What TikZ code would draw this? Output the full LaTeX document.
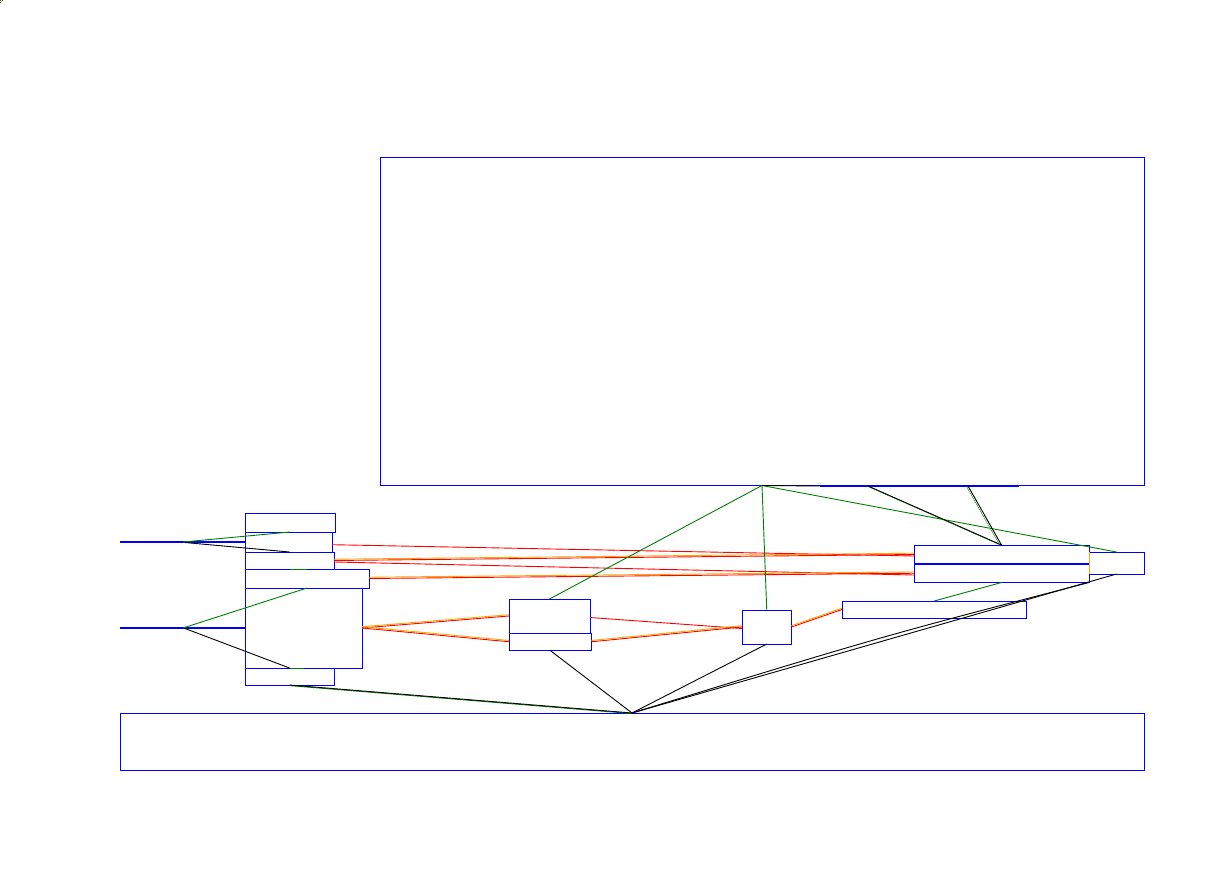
\documentclass[tikz,border=0pt]{standalone}
\usetikzlibrary{calc}
\definecolor{gr}{RGB}{0,128,0}
\definecolor{bl}{RGB}{0,0,255}
\definecolor{rd}{RGB}{255,0,0}
\definecolor{og}{RGB}{255,165,0}
\tikzset{
  bx/.style={draw=bl, line width=1pt, rectangle, inner sep=0pt, outer sep=0pt},
  thin/.style={line width=0.9pt},
  gline/.style={thin, draw=gr},
  kline/.style={thin, draw=black},
  rline/.style={thin, draw=rd},
  orline/.style={thin, draw=rd, postaction={draw=og, transform canvas={yshift=1.3pt}}},
  kgline/.style={thin, draw=black, preaction={draw=gr, transform canvas={xshift=-1.3pt}}},
  gkline/.style={thin, draw=black, preaction={draw=gr, transform canvas={xshift=-1.8pt}}},
  thickblue/.style={draw=bl, line width=2pt},
}
\begin{document}
\begin{tikzpicture}[x=1pt,y=-1pt]
\useasboundingbox (0,0) rectangle (1224,870);
% tiny marks top-left
\fill[gr] (0,0) rectangle (1,1);
\fill[gr] (2,0) rectangle (3,1);
\fill[rd] (0,2) rectangle (1,3);

% big boxes
\node[bx, minimum width=764pt, minimum height=328.5pt] (top) at (762,321.25) {};
\node[bx, minimum width=1024pt, minimum height=57pt] (bot) at (632,741.5) {};

% left stack
\node[bx, minimum width=90pt, minimum height=19pt] (A) at (290,522.5) {};
\node[bx, minimum width=87pt, minimum height=20pt] (B) at (288.5,542) {};
\node[bx, minimum width=89pt, minimum height=17pt] (C) at (289.5,560.5) {};
\node[bx, minimum width=124pt, minimum height=19pt] (D) at (307,578.5) {};
\node[bx, minimum width=117pt, minimum height=80pt] (E) at (303.5,628) {};
\node[bx, minimum width=89pt, minimum height=17pt] (F) at (289.5,676.5) {};

% middle
\node[bx, minimum width=81pt, minimum height=34pt] (M1) at (549.5,616) {};
\node[bx, minimum width=82.5pt, minimum height=17.5pt] (M2) at (550.25,641.75) {};
\node[bx, minimum width=49.5pt, minimum height=34pt] (S) at (766.75,627) {};
\node[bx, minimum width=184.5pt, minimum height=17pt] (L) at (934.25,609.5) {};

% right
\node[bx, minimum width=175pt, minimum height=19pt] (RT) at (1001.5,554.5) {};
\node[bx, minimum width=175pt, minimum height=18.5pt] (RB) at (1001.5,573.25) {};
\node[bx, minimum width=55pt, minimum height=22pt] (RS) at (1116.5,563) {};

% helper coordinates
\coordinate (l1) at (120,542);
\coordinate (l2) at (120,628);
\coordinate (h1) at (183,542);
\coordinate (h2) at (183,628);
\coordinate (tbw) at (820,486);
\coordinate (tbe) at (1019,486);
\coordinate (t1) at (868,486);
\coordinate (t2) at (968,486);

% thick blue segments
\draw[thickblue] (l1) -- (B.west);
\draw[thickblue] (l2) -- (E.west);
\draw[thickblue] (tbw) -- (tbe);
\draw[thickblue] (RT.south west) -- (RT.south east);

% left fan-outs
\draw[gline] (h1) -- (A.south);
\draw[kline] ([xshift=2pt,yshift=-0.5pt]h1) -- (C.north);
\draw[gline] (h2) -- (D.south);
\draw[kline] ([xshift=2pt,yshift=-0.5pt]h2) -- (F.north);
\draw[gline] (C.south) -- (D.north);
\draw[gline] (F.north) -- (E.south);

% long red / orange connectors
\draw[rline] ([yshift=-2.7pt]B.east) -- ([yshift=-1.5pt]RT.west);
\draw[orline] (C.east) -- (RT.west);
\draw[rline] ([yshift=-1.5pt]C.east) -- ([yshift=-1.75pt]RB.west);
\draw[orline] (D.east) -- (RB.west);
\draw[orline] (E.east) -- (M1.west);
\draw[orline] (E.east) -- (M2.west);
\draw[rline] ([yshift=-1.5pt]M1.east) -- ([yshift=-1.5pt]S.west);
\draw[orline] (M2.east) -- (S.west);
\draw[orline] (S.east) -- (L.west);

% top hub
\draw[gline] (top.south) -- (M1.north);
\draw[gline] (top.south) -- (S.north);
\draw[gline] (top.south) -- (RS.north);
\draw[kline] (top.south) -- (tbw);
\draw[kgline] (t1) -- (RT.north);
\draw[gkline] (t2) -- (RT.north);
\draw[gline] (RB.south) -- (L.north);
\draw[thin, draw=og] (RS.north west) -- (RS.south west);

% bottom hub
\draw[gline] ([yshift=-0.6pt]F.south) -- ([yshift=-0.6pt]bot.north);
\draw[kline] (F.south) -- (bot.north);
\draw[kline] (M2.south) -- (bot.north);
\draw[kline] (S.south) -- (bot.north);
\draw[kline] (bot.north) -- (RS.south);
\draw[kline] (bot.north) .. controls (883,636) .. (RB.south east);
\end{tikzpicture}
\end{document}
